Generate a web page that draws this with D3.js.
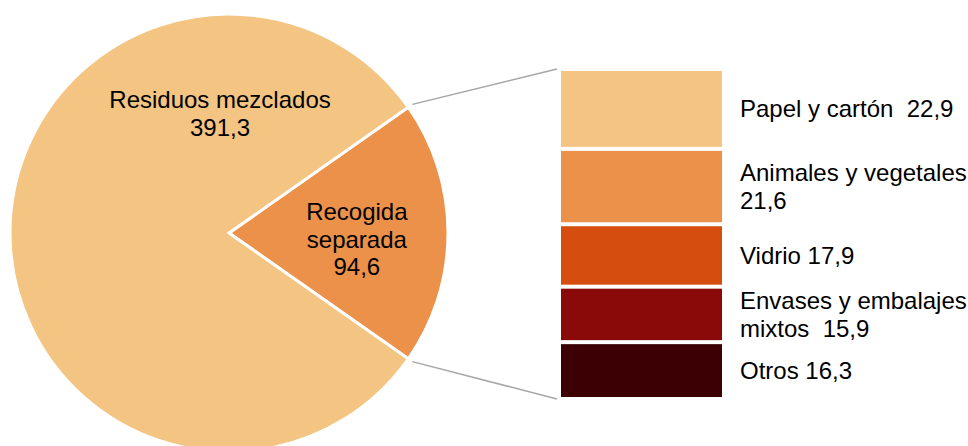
<!DOCTYPE html>
<html>
<head>
<meta charset="utf-8">
<script src="https://cdn.jsdelivr.net/npm/d3@7.9.0/dist/d3.min.js"></script>
<style>
  html, body { margin: 0; padding: 0; background: #fff; }
  svg text { font-family: "Liberation Sans", Arial, sans-serif; font-size: 24px; fill: #000; white-space: pre; }
</style>
</head>
<body>
<svg id="chart" width="968" height="446"></svg>
<script>
// ---- data ----
const pieLabels = [["Recogida", "separada", "94,6"], ["Residuos mezclados", "391,3"]];
const pieValues = [94.6, 391.3];
const pieColors = ["#EC9149", "#F4C482"];

const barLabels = [
  ["Papel y cartón  22,9"],
  ["Animales y vegetales", "21,6"],
  ["Vidrio 17,9"],
  ["Envases y embalajes", "mixtos  15,9"],
  ["Otros 16,3"]
];
const barValues = [22.9, 21.6, 17.9, 15.9, 16.3];
const barColors = ["#F4C482", "#EC9149", "#D54E0F", "#8A0A09", "#3C0004"];

// ---- layout ----
const svg = d3.select("#chart");
const cx = 229, cy = 233, R = 219;
const lineH = 27.5;

// pie: separate slice centred on the right side
const total = d3.sum(pieValues);
const span = pieValues[0] / total * 2 * Math.PI;
const start = Math.PI / 2 - span / 2;
const pie = d3.pie().sort(null).startAngle(start).endAngle(start + 2 * Math.PI);
const arcs = pie(pieValues);
const arc = d3.arc().innerRadius(0).outerRadius(R);

const g = svg.append("g").attr("transform", `translate(${cx},${cy})`);
g.selectAll("path")
  .data(arcs)
  .join("path")
  .attr("d", arc)
  .attr("fill", (d, i) => pieColors[i])
  .attr("stroke", "#fff")
  .attr("stroke-width", 3)
  .attr("stroke-linejoin", "miter");

// label anchor positions (angle in rad from 12 o'clock, radius)
const pieLabelPos = [[1.62, 128], [-0.075, 120]];
function multiLine(sel, lines, x, yMid, anchor) {
  const t = sel.append("text").attr("text-anchor", anchor);
  const first = yMid - (lines.length - 1) * lineH / 2 + 8.5;
  lines.forEach((s, k) => {
    t.append("tspan").attr("x", x).attr("y", first + k * lineH).text(s);
  });
}
pieLabels.forEach((lines, i) => {
  const [a, r] = pieLabelPos[i];
  multiLine(g, lines, r * Math.sin(a), -r * Math.cos(a), "middle");
});

// stacked bar breakdown
const barX = 561, barW = 161;
const y = d3.scaleLinear().domain([0, d3.sum(barValues)]).range([69, 399]);
const cum = d3.cumsum(barValues);
const stacks = barValues.map((v, i) => ({ y0: cum[i] - v, y1: cum[i], i }));

svg.selectAll("rect.seg")
  .data(stacks)
  .join("rect")
  .attr("class", "seg")
  .attr("x", barX)
  .attr("width", barW)
  .attr("y", d => y(d.y0) + 2)
  .attr("height", d => y(d.y1) - y(d.y0) - 4)
  .attr("fill", d => barColors[d.i]);

stacks.forEach(d => {
  multiLine(svg, barLabels[d.i], 740, (y(d.y0) + y(d.y1)) / 2, "start");
});

// connector lines from slice edges to bar
const edges = [arcs[0].startAngle, arcs[0].endAngle];
const ends = [y(0), y(d3.sum(barValues))];
edges.forEach((a, k) => {
  const r = R + 5;
  svg.append("line")
    .attr("x1", cx + r * Math.sin(a))
    .attr("y1", cy - r * Math.cos(a))
    .attr("x2", barX - 4)
    .attr("y2", ends[k])
    .attr("stroke", "#A6A6A6")
    .attr("stroke-width", 1.5);
});
</script>
</body>
</html>
